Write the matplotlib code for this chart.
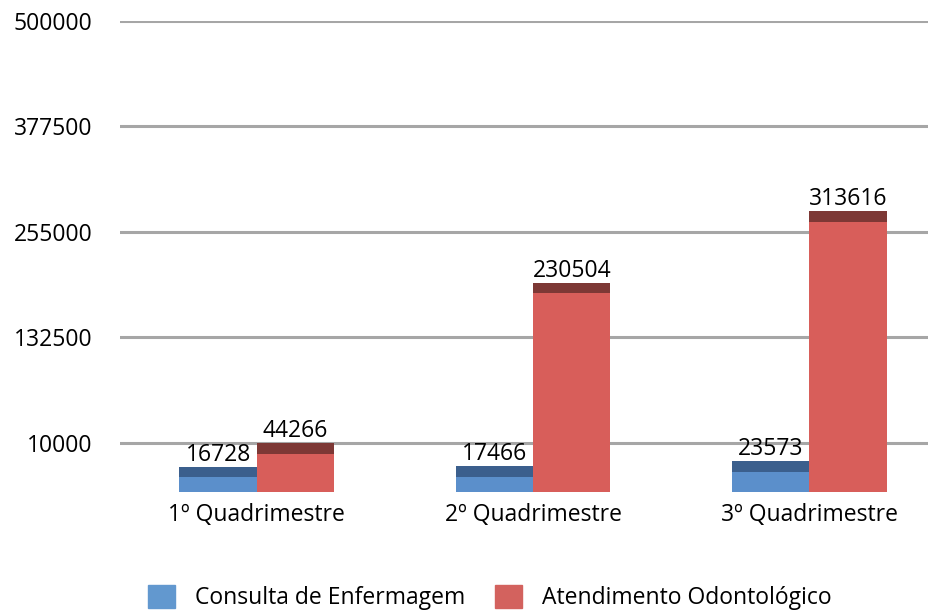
import matplotlib.pyplot as plt
import numpy as np
from matplotlib.patches import Patch

# data
categories = ['1º Quadrimestre', '2º Quadrimestre', '3º Quadrimestre']
enfermagem = [16728, 17466, 23573]
odonto = [44266, 230504, 313616]
series_names = ['Consulta de Enfermagem', 'Atendimento Odontológico']
yticks = [10000, 132500, 255000, 377500, 500000]

plt.rcParams['font.family'] = ['Open Sans', 'DejaVu Sans']

floor = -47000      # 3D floor sits below the lowest gridline
cap = 12000         # depth of the top face
w = 0.28
fs = 16.5
blue, blue_top = '#5b8fcb', '#3b5f8d'
red, red_top = '#d85e5a', '#7d3835'

fig = plt.figure(figsize=(9.3, 6.11), dpi=100)
ax = fig.add_axes([0.129, 0.195, 0.869, 0.771])

x = np.arange(len(categories))
for xs, vals, c, ct in [(x - w / 2, enfermagem, blue, blue_top),
                        (x + w / 2, odonto, red, red_top)]:
    vals = np.array(vals)
    ax.bar(xs, vals, w, bottom=floor, color=c, zorder=3)
    ax.bar(xs, cap, w, bottom=floor + vals, color=ct, zorder=3)
    for xi, v in zip(xs, vals):
        ax.text(xi, floor + v + cap + 500, str(v), ha='center', va='bottom',
                fontsize=fs, zorder=4)

ax.set_ylim(floor, 500000)
ax.set_xlim(-0.495, 2.43)
ax.set_yticks(yticks)
ax.set_yticklabels([str(t) for t in yticks], fontsize=fs)
ax.set_xticks(x)
ax.set_xticklabels(categories, fontsize=fs)
ax.tick_params(length=0)
ax.tick_params(axis='y', pad=20)
ax.tick_params(axis='x', pad=8)
ax.grid(axis='y', color='#a6a6a6', linewidth=2.2, zorder=0)
for s in ax.spines.values():
    s.set_visible(False)

handles = [Patch(color='#6298cf'), Patch(color='#d3625e')]
fig.legend(handles, series_names, loc='lower center', bbox_to_anchor=(0.527, -0.032),
           ncol=2, frameon=False, fontsize=fs, handlelength=1.15, handleheight=1.15,
           columnspacing=1.3, handletextpad=0.9)

fig.savefig('out.png', dpi=100)
